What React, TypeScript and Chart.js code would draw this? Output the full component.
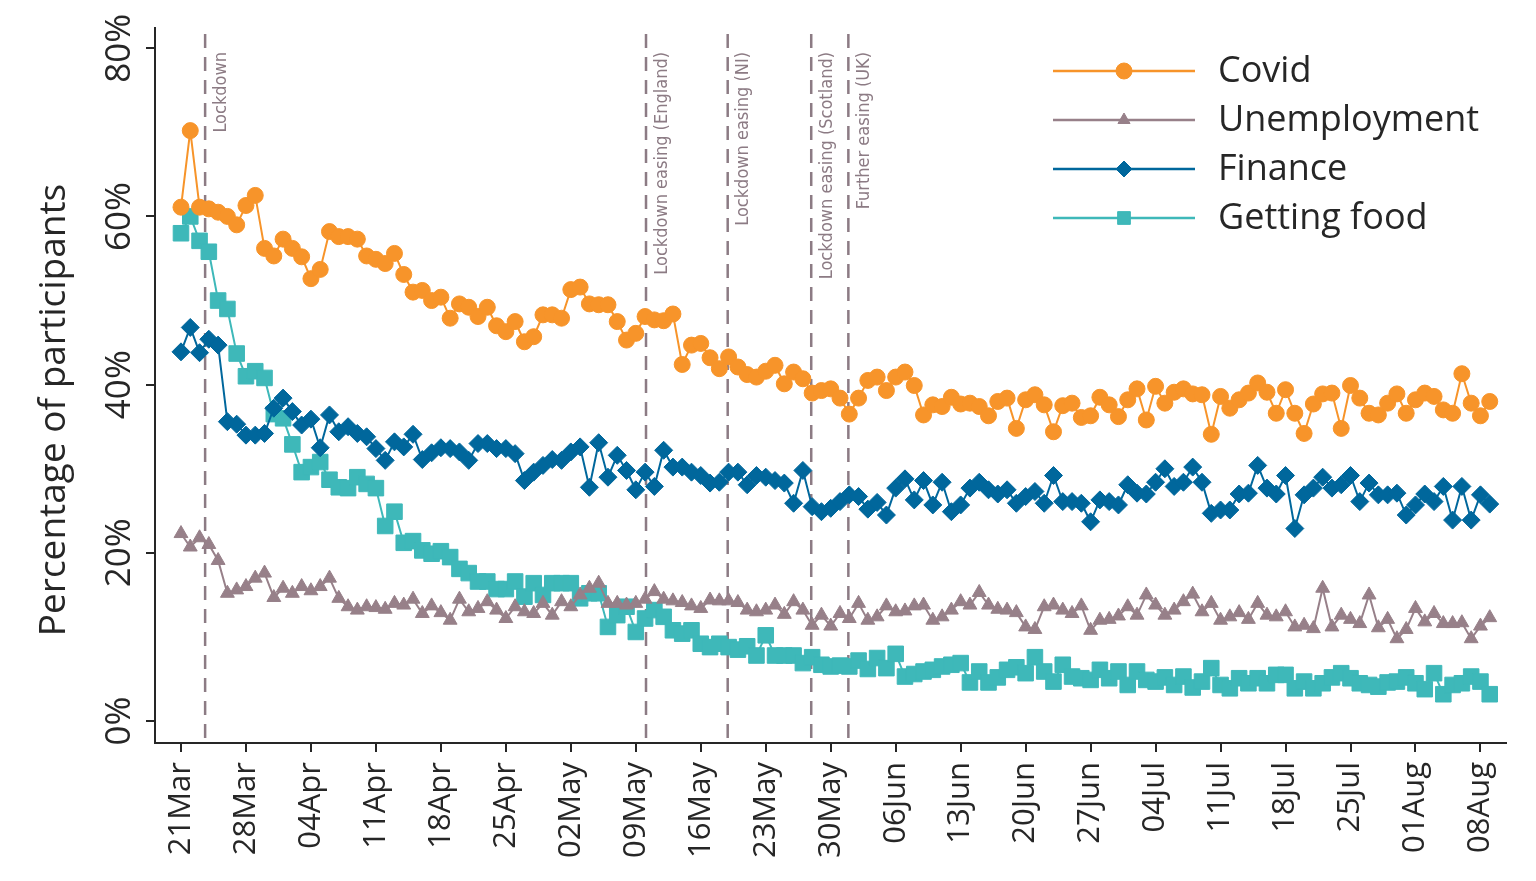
import React, { useEffect, useRef } from 'react';
import { Chart, registerables } from 'chart.js';
import { drawPoint } from 'chart.js/helpers';

Chart.register(...registerables);

// Daily values, 21 Mar (day 0) onwards
const covid = [
  61.1, 70.2, 61.1, 60.9, 60.5, 60.0, 59.0, 61.3, 62.5, 56.2,
  55.3, 57.3, 56.2, 55.2, 52.6, 53.7, 58.2, 57.6, 57.6, 57.3,
  55.3, 54.9, 54.4, 55.6, 53.1, 51.0, 51.2, 50.0, 50.4, 47.9,
  49.6, 49.2, 48.1, 49.2, 47.0, 46.3, 47.5, 45.1, 45.7, 48.3,
  48.3, 47.9, 51.3, 51.6, 49.6, 49.5, 49.5, 47.5, 45.3, 46.1,
  48.1, 47.7, 47.6, 48.4, 42.4, 44.7, 44.9, 43.2, 41.9, 43.3,
  42.1, 41.2, 40.9, 41.6, 42.3, 40.1, 41.5, 40.7, 39.0, 39.3,
  39.5, 38.4, 36.5, 38.4, 40.5, 40.9, 39.3, 40.9, 41.5, 39.9,
  36.4, 37.6, 37.4, 38.5, 37.7, 37.8, 37.4, 36.3, 38.0, 38.4,
  34.8, 38.2, 38.8, 37.6, 34.4, 37.5, 37.8, 36.1, 36.3, 38.5,
  37.6, 36.2, 38.2, 39.5, 35.8, 39.8, 37.8, 39.1, 39.5, 38.9,
  38.8, 34.1, 38.6, 37.2, 38.2, 39.0, 40.2, 39.1, 36.6, 39.4,
  36.6, 34.2, 37.7, 38.9, 39.0, 34.8, 39.9, 38.4, 36.6, 36.4,
  37.8, 38.9, 36.6, 38.2, 39.0, 38.6, 37.0, 36.6, 41.3, 37.8,
  36.3, 38.0,
];

const unemployment = [
  22.3, 20.7, 21.8, 21.0, 19.1, 15.2, 15.6, 16.0, 17.0, 17.6,
  14.7, 15.8, 15.2, 16.0, 15.5, 16.0, 17.0, 14.6, 13.6, 13.2,
  13.6, 13.5, 13.3, 14.0, 13.8, 14.5, 12.8, 13.7, 12.9, 12.0,
  14.5, 13.0, 13.4, 14.2, 13.2, 12.2, 13.6, 13.0, 12.8, 14.0,
  12.6, 14.2, 13.6, 15.0, 15.8, 16.4, 14.0, 14.0, 13.8, 14.0,
  14.5, 15.4, 14.5, 14.3, 14.1, 13.7, 13.4, 14.4, 14.3, 14.3,
  14.1, 13.2, 13.0, 13.2, 13.8, 12.7, 14.2, 13.2, 11.4, 12.6,
  11.3, 12.8, 12.2, 14.0, 12.0, 12.4, 13.7, 13.0, 13.1, 13.7,
  13.8, 12.0, 12.4, 13.2, 14.2, 13.8, 15.3, 13.8, 13.3, 13.2,
  12.9, 11.2, 10.9, 13.6, 13.8, 13.2, 12.8, 13.7, 10.8, 12.0,
  12.1, 12.5, 13.6, 12.6, 15.0, 13.8, 12.6, 13.2, 14.2, 15.1,
  13.0, 14.0, 12.0, 12.4, 12.9, 12.1, 14.0, 12.6, 12.4, 13.0,
  11.2, 11.4, 11.0, 15.8, 11.2, 12.6, 12.1, 11.6, 15.0, 11.1,
  12.1, 9.8, 10.9, 13.4, 11.8, 12.8, 11.6, 11.6, 11.7, 9.8,
  11.3, 12.3,
];

const finance = [
  43.9, 46.8, 43.8, 45.4, 44.7, 35.6, 35.3, 34.0, 34.0, 34.2,
  37.2, 38.4, 36.8, 35.2, 35.9, 32.5, 36.4, 34.4, 35.0, 34.2,
  33.8, 32.4, 31.0, 33.2, 32.6, 34.1, 31.1, 31.9, 32.5, 32.4,
  32.0, 31.0, 33.0, 33.0, 32.4, 32.4, 31.8, 28.6, 29.6, 30.4,
  31.1, 31.0, 32.0, 32.6, 27.8, 33.1, 29.0, 31.6, 29.8, 27.5,
  29.6, 27.9, 32.2, 30.2, 30.2, 29.6, 29.2, 28.3, 28.4, 29.6,
  29.6, 28.1, 29.2, 29.0, 28.6, 28.3, 25.9, 29.8, 25.5, 24.9,
  25.3, 26.1, 26.9, 26.7, 25.2, 26.0, 24.5, 27.7, 28.8, 26.3,
  28.6, 25.7, 28.4, 24.9, 25.7, 27.7, 28.4, 27.5, 27.0, 27.5,
  25.9, 26.7, 27.3, 25.9, 29.2, 26.1, 26.1, 25.9, 23.7, 26.3,
  26.1, 25.7, 28.1, 27.1, 27.0, 28.4, 30.0, 27.9, 28.4, 30.2,
  28.4, 24.7, 25.1, 25.1, 27.0, 27.1, 30.4, 27.7, 27.0, 29.2,
  22.9, 26.9, 27.7, 29.0, 27.7, 28.1, 29.2, 26.1, 28.3, 26.9,
  26.9, 27.1, 24.5, 25.7, 27.0, 26.1, 27.9, 23.9, 27.9, 23.9,
  26.9, 25.8,
];

const food = [
  58.0, 60.0, 57.1, 55.8, 50.0, 49.0, 43.7, 41.0, 41.6, 40.8,
  36.5, 36.0, 32.9, 29.6, 30.2, 30.8, 28.7, 27.8, 27.7, 29.0,
  28.2, 27.7, 23.2, 24.9, 21.2, 21.4, 20.3, 19.9, 20.2, 19.5,
  18.1, 17.6, 16.6, 16.6, 15.7, 15.7, 16.6, 14.8, 16.4, 15.0,
  16.4, 16.4, 16.4, 14.6, 15.2, 15.2, 11.2, 12.6, 13.6, 10.6,
  12.2, 13.2, 12.4, 10.8, 10.4, 10.8, 9.2, 8.8, 9.2, 8.8,
  8.5, 8.9, 7.8, 10.2, 7.8, 7.8, 7.8, 6.9, 7.6, 6.7,
  6.5, 6.6, 6.5, 7.2, 6.2, 7.5, 6.3, 8.0, 5.3, 5.6,
  5.9, 6.1, 6.5, 6.7, 6.9, 4.6, 5.9, 4.6, 5.2, 6.1,
  6.4, 5.7, 7.6, 5.9, 4.7, 6.7, 5.3, 5.1, 4.9, 6.1,
  5.1, 5.9, 4.3, 5.9, 4.9, 4.7, 5.2, 4.3, 5.3, 4.0,
  4.7, 6.3, 4.3, 3.9, 5.1, 4.5, 5.1, 4.5, 5.5, 5.5,
  3.9, 4.7, 3.9, 4.5, 5.2, 5.7, 5.1, 4.5, 4.3, 4.1,
  4.6, 4.7, 5.2, 4.5, 3.8, 5.7, 3.2, 4.3, 4.5, 5.3,
  4.7, 3.2,
];

const seriesNames = ['Covid', 'Unemployment', 'Finance', 'Getting food'];
const seriesColors = ['#F7942A', '#978089', '#00679C', '#3EB8B9'];

const tickDays = [0, 7, 14, 21, 28, 35, 42, 49, 56, 63, 70, 77, 84, 91, 98, 105, 112, 119, 126, 133, 140];
const tickLabels = [
  '21Mar', '28Mar', '04Apr', '11Apr', '18Apr', '25Apr', '02May', '09May', '16May', '23May',
  '30May', '06Jun', '13Jun', '20Jun', '27Jun', '04Jul', '11Jul', '18Jul', '25Jul', '01Aug', '08Aug',
];
const yTicks = [0, 20, 40, 60, 80];

const eventDays = [2.6, 50.1, 58.9, 67.9, 71.9];
const eventLabels = [
  'Lockdown',
  'Lockdown easing (England)',
  'Lockdown easing (NI)',
  'Lockdown easing (Scotland)',
  'Further easing (UK)',
];

const FONT = '"Open Sans", "DejaVu Sans", sans-serif';
const NARROW = '"Liberation Sans Narrow", "DejaVu Sans Condensed", sans-serif';
const EVENT_COLOR = '#8C7B84';
const AXIS_COLOR = '#262626';

const styles = [
  { pointStyle: 'circle', radius: 8, legendRadius: 8 },
  { pointStyle: 'triangle', radius: 8, legendRadius: 7 },
  { pointStyle: 'rectRot', radius: 9, legendRadius: 8 },
  { pointStyle: 'rect', radius: 11, legendRadius: 9 },
];

const toPoints = (arr: number[]) => arr.map((v, i) => ({ x: i, y: v }));

const eventsPlugin = {
  id: 'events',
  beforeDatasetsDraw(chart: any) {
    const { ctx, chartArea, scales } = chart;
    const xs = scales.x;
    ctx.save();
    eventDays.forEach((d, i) => {
      const px = xs.getPixelForValue(d);
      ctx.strokeStyle = EVENT_COLOR;
      ctx.lineWidth = 2.5;
      ctx.setLineDash([14, 9]);
      ctx.beginPath();
      ctx.moveTo(px, chartArea.top + 6);
      ctx.lineTo(px, chartArea.bottom);
      ctx.stroke();
      ctx.setLineDash([]);
      ctx.save();
      ctx.translate(px + 16, chartArea.top + 24);
      ctx.rotate(-Math.PI / 2);
      ctx.fillStyle = EVENT_COLOR;
      ctx.font = `18px ${NARROW}`;
      ctx.textAlign = 'right';
      ctx.textBaseline = 'middle';
      ctx.fillText(eventLabels[i], 0, 0);
      ctx.restore();
    });
    ctx.restore();
  },
};

const decorPlugin = {
  id: 'decor',
  afterDraw(chart: any) {
    const { ctx, scales } = chart;
    const ys = scales.y;
    ctx.save();
    // y tick labels (rotated)
    ctx.fillStyle = AXIS_COLOR;
    ctx.font = `35px ${FONT}`;
    ctx.textAlign = 'center';
    ctx.textBaseline = 'middle';
    yTicks.forEach((v) => {
      const py = ys.getPixelForValue(v);
      ctx.save();
      ctx.translate(112, py);
      ctx.rotate(-Math.PI / 2);
      ctx.fillText(`${v}%`, 0, 0);
      ctx.restore();
    });
    // y title
    ctx.save();
    ctx.translate(46, 402);
    ctx.rotate(-Math.PI / 2);
    ctx.font = `37px ${FONT}`;
    ctx.fillText('Percentage of participants', 0, 0);
    ctx.restore();

    // legend
    const rowY = [63, 112, 161, 210];
    seriesNames.forEach((name, i) => {
      const y = rowY[i];
      ctx.strokeStyle = seriesColors[i];
      ctx.fillStyle = seriesColors[i];
      ctx.lineWidth = 2.5;
      ctx.beginPath();
      ctx.moveTo(1045, y);
      ctx.lineTo(1187, y);
      ctx.stroke();
      ctx.lineWidth = 1;
      drawPoint(ctx, { pointStyle: styles[i].pointStyle, radius: styles[i].legendRadius, borderWidth: 1, rotation: 0 } as any, 1116, y);
      ctx.fillStyle = AXIS_COLOR;
      ctx.font = `36px ${FONT}`;
      ctx.textAlign = 'left';
      ctx.textBaseline = 'middle';
      ctx.fillText(name, 1210, y + 1);
    });
    ctx.restore();
  },
};

export default function App() {
  const canvasRef = useRef<HTMLCanvasElement | null>(null);

  useEffect(() => {
    if (!canvasRef.current) return;
    Chart.defaults.font.family = FONT;
    const datasets = [covid, unemployment, finance, food].map((arr, i) => ({
      label: seriesNames[i],
      data: toPoints(arr),
      borderColor: seriesColors[i],
      backgroundColor: seriesColors[i],
      borderWidth: 2,
      pointStyle: styles[i].pointStyle,
      pointRadius: styles[i].radius,
      pointHoverRadius: styles[i].radius,
      pointBorderWidth: 1,
      pointBackgroundColor: seriesColors[i],
      pointBorderColor: seriesColors[i],
      tension: 0,
    }));

    const chart = new Chart(canvasRef.current, {
      type: 'line',
      data: { datasets },
      options: {
        animation: false,
        responsive: false,
        devicePixelRatio: 1,
        layout: { padding: { left: 0, top: 20, right: 18, bottom: 0 } },
        plugins: { legend: { display: false }, tooltip: { enabled: false } },
        scales: {
          x: {
            type: 'linear',
            min: -2.8,
            max: 142.8,
            afterBuildTicks: (scale: any) => {
              scale.ticks = tickDays.map((v) => ({ value: v }));
            },
            afterFit: (scale: any) => {
              scale.height = 130;
            },
            ticks: {
              autoSkip: false,
              minRotation: 90,
              maxRotation: 90,
              padding: 10,
              color: AXIS_COLOR,
              font: { size: 31, family: FONT },
              callback: (_v: any, idx: number) => tickLabels[idx],
            },
            grid: {
              drawOnChartArea: false,
              drawTicks: true,
              tickLength: 9,
              color: AXIS_COLOR,
              lineWidth: 2,
            },
            border: { display: true, color: AXIS_COLOR, width: 2 },
          },
          y: {
            type: 'linear',
            min: -2.6,
            max: 82.4,
            afterBuildTicks: (scale: any) => {
              scale.ticks = yTicks.map((v) => ({ value: v }));
            },
            afterFit: (scale: any) => {
              scale.width = 147;
            },
            ticks: { display: false },
            grid: {
              drawOnChartArea: false,
              drawTicks: true,
              tickLength: 9,
              color: AXIS_COLOR,
              lineWidth: 2,
            },
            border: { display: true, color: AXIS_COLOR, width: 2 },
          },
        },
      },
      plugins: [eventsPlugin, decorPlugin],
    } as any);
    return () => chart.destroy();
  }, []);

  return (
    <div style={{ width: 1520, height: 865, overflow: 'hidden' }}>
      <canvas ref={canvasRef} width={1520} height={865} style={{ display: 'block' }} />
    </div>
  );
}
